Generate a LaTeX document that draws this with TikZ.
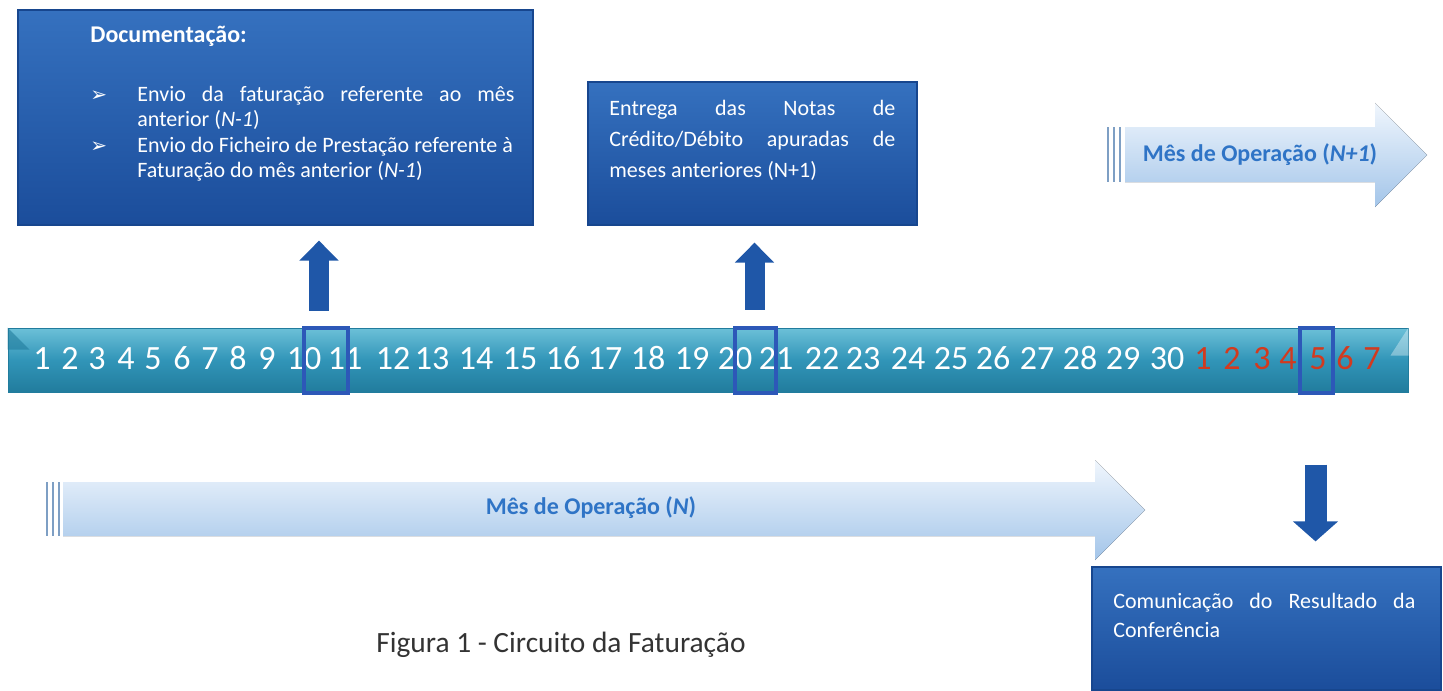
\documentclass[tikz,border=0pt]{standalone}
\usepackage{fontspec}
\setmainfont{Carlito}
\newfontfamily\dingfont{DejaVu Sans}
\usetikzlibrary{arrows.meta}
\definecolor{boxtop}{HTML}{3571BF}
\definecolor{boxbot}{HTML}{1B4D9B}
\definecolor{boxedge}{HTML}{17468E}
\definecolor{bartop}{HTML}{6CC0D8}
\definecolor{barmid}{HTML}{3195B8}
\definecolor{barbot}{HTML}{217C9D}
\definecolor{markblue}{HTML}{2D58B8}
\definecolor{arrblue}{HTML}{1F57A8}
\definecolor{daysred}{HTML}{D23A1F}
\definecolor{monthblue}{HTML}{2F74C6}
\definecolor{shafttop}{HTML}{F0F6FD}
\definecolor{shaftbot}{HTML}{A3C5E9}
\definecolor{stripe}{HTML}{7E9FC4}
\definecolor{captext}{HTML}{333333}
\tikzset{
  infobox/.style={draw=boxedge, line width=0.6pt, top color=boxtop, bottom color=boxbot, inner sep=0pt},
  boxtext/.style={text=white, inner sep=0pt, anchor=north west, align=left},
  boxtitle/.style={text=white, inner sep=0pt, anchor=base west, font=\bfseries\fontsize{12pt}{14pt}\selectfont},
  daynum/.style={text=white, inner sep=0pt, anchor=base, font=\fontsize{17pt}{17pt}\selectfont},
  nextnum/.style={daynum, text=daysred},
  markbox/.style={draw=markblue, line width=2pt, inner sep=0pt, minimum height=32.5pt},
  uparr/.style={draw=arrblue, line width=10pt, -{Triangle[width=19pt,length=10pt]}},
  downarr/.style={draw=arrblue, line width=11pt, -{Triangle[width=22pt,length=10pt]}},
  monthshaft/.style={top color=shafttop, bottom color=shaftbot},
  tailstripe/.style={draw=stripe, line width=1pt},
  monthtext/.style={text=monthblue, inner sep=0pt, font=\bfseries\fontsize{12pt}{14pt}\selectfont},
  captiontext/.style={text=captext, inner sep=0pt, anchor=base west, font=\fontsize{14.7pt}{17pt}\selectfont}
}
\newcommand{\tick}{\makebox[23.5pt][l]{\dingfont\fontsize{10pt}{10pt}\selectfont ➢}}
\begin{document}
\begin{tikzpicture}[x=0.5pt,y=0.5pt]
    \useasboundingbox (0,0) rectangle (1443,-690);
    \node[infobox, minimum width=257.5pt, minimum height=107.5pt] (doc) at (275.5,-117.5) {};
    \node[boxtitle] (doctitle) at (90,-43) {Documentação:};
    \node[boxtext, font=\fontsize{11pt}{12.65pt}\selectfont] (docitems) at (90,-81)
        {\rule{0pt}{10pt}\tick\makebox[188.5pt][s]{Envio da faturação referente ao mês}\\
         \hspace*{23.5pt}anterior (\textit{N-1})\\
         \tick Envio do Ficheiro de Prestação referente à\\
         \hspace*{23.5pt}Faturação do mês anterior (\textit{N-1})};
    \node[infobox, minimum width=164.5pt, minimum height=71.5pt] (notas) at (752.5,-153.5) {};
    \node[boxtext, font=\fontsize{11pt}{15.5pt}\selectfont] (notastext) at (609,-95)
        {\rule{0pt}{10pt}\makebox[143pt][s]{Entrega das Notas de}\\
         \makebox[143pt][s]{Crédito/Débito apuradas de}\\
         meses anteriores (N+1)};
    \node[infobox, minimum width=174.5pt, minimum height=61.5pt] (comun) at (1266.5,-628.5) {};
    \node[boxtext, font=\fontsize{11pt}{14.5pt}\selectfont] (comuntext) at (1113,-588)
        {\rule{0pt}{10pt}\makebox[151pt][s]{Comunicação do Resultado da}\\
         Conferência};
    \node[draw=barbot, line width=0.5pt, top color=bartop, bottom color=barbot, middle color=barmid,
          inner sep=0pt, minimum width=700pt, minimum height=32pt] (bar) at (708,-360) {};
    \fill[barbot, opacity=0.6] (bar.north west) -- ++(22,-22) -- ++(-22,0) -- cycle;
    \fill[white, opacity=0.35] (bar.north east) -- ++(0,-28) -- ++(-18,0) -- cycle;
    \foreach \d/\xp in {1/42,2/70,3/97,4/126,5/153,6/182,7/210,8/238,9/267,10/304,
                        11/345,12/393,13/432,14/476,15/520,16/563,17/605,18/648,19/692,20/735,
                        21/776,22/822,23/863,24/908,25/951,26/993,27/1037,28/1080,29/1123,30/1167}
        \node[daynum] (d\d) at (\xp,-369) {\d};
    \foreach \d/\xp in {1/1203,2/1232,3/1262,4/1288,5/1318,6/1345,7/1372}
        \node[nextnum] (e\d) at (\xp,-369) {\d};
    \node[markbox, minimum width=22pt] (markA) at (326,-360) {};
    \node[markbox, minimum width=20.5pt] (markB) at (755.5,-360) {};
    \node[markbox, minimum width=16.5pt] (markC) at (1316.5,-360) {};
    \draw[uparr, shorten <=7.5pt, shorten >=7.5pt] ([xshift=-3.5pt]markA.north) -- ([xshift=-3.5pt]markA.north |- doc.south);
    \draw[uparr, shorten <=8pt, shorten >=8.5pt] ([xshift=-0.5pt]markB.north) -- ([xshift=-0.5pt]markB.north |- notas.south);
    \draw[downarr, shorten <=35pt, shorten >=12.5pt] ([xshift=-0.5pt]markC.south) -- ([xshift=-0.5pt]markC.south |- comun.north);
    \fill[monthshaft] (63,-482) -- (1095,-482) -- (1095,-460) -- (1145,-510) -- (1095,-560) -- (1095,-536) -- (63,-536) -- cycle;
    \foreach \sx in {47,53,59}
        \draw[tailstripe] (\sx,-482) -- (\sx,-536);
    \node[monthtext] (opN) at (591,-508) {Mês de Operação (\textit{N})};
    \fill[monthshaft] (1125,-127) -- (1375,-127) -- (1375,-103) -- (1427,-155) -- (1375,-207) -- (1375,-182) -- (1125,-182) -- cycle;
    \foreach \sx in {1108,1114,1120}
        \draw[tailstripe] (\sx,-127) -- (\sx,-182);
    \node[monthtext] (opNext) at (1260,-155) {Mês de Operação (\textit{N+1})};
    \node[captiontext] (caption) at (376,-652) {Figura 1 - Circuito da Faturação};
\end{tikzpicture}
\end{document}
